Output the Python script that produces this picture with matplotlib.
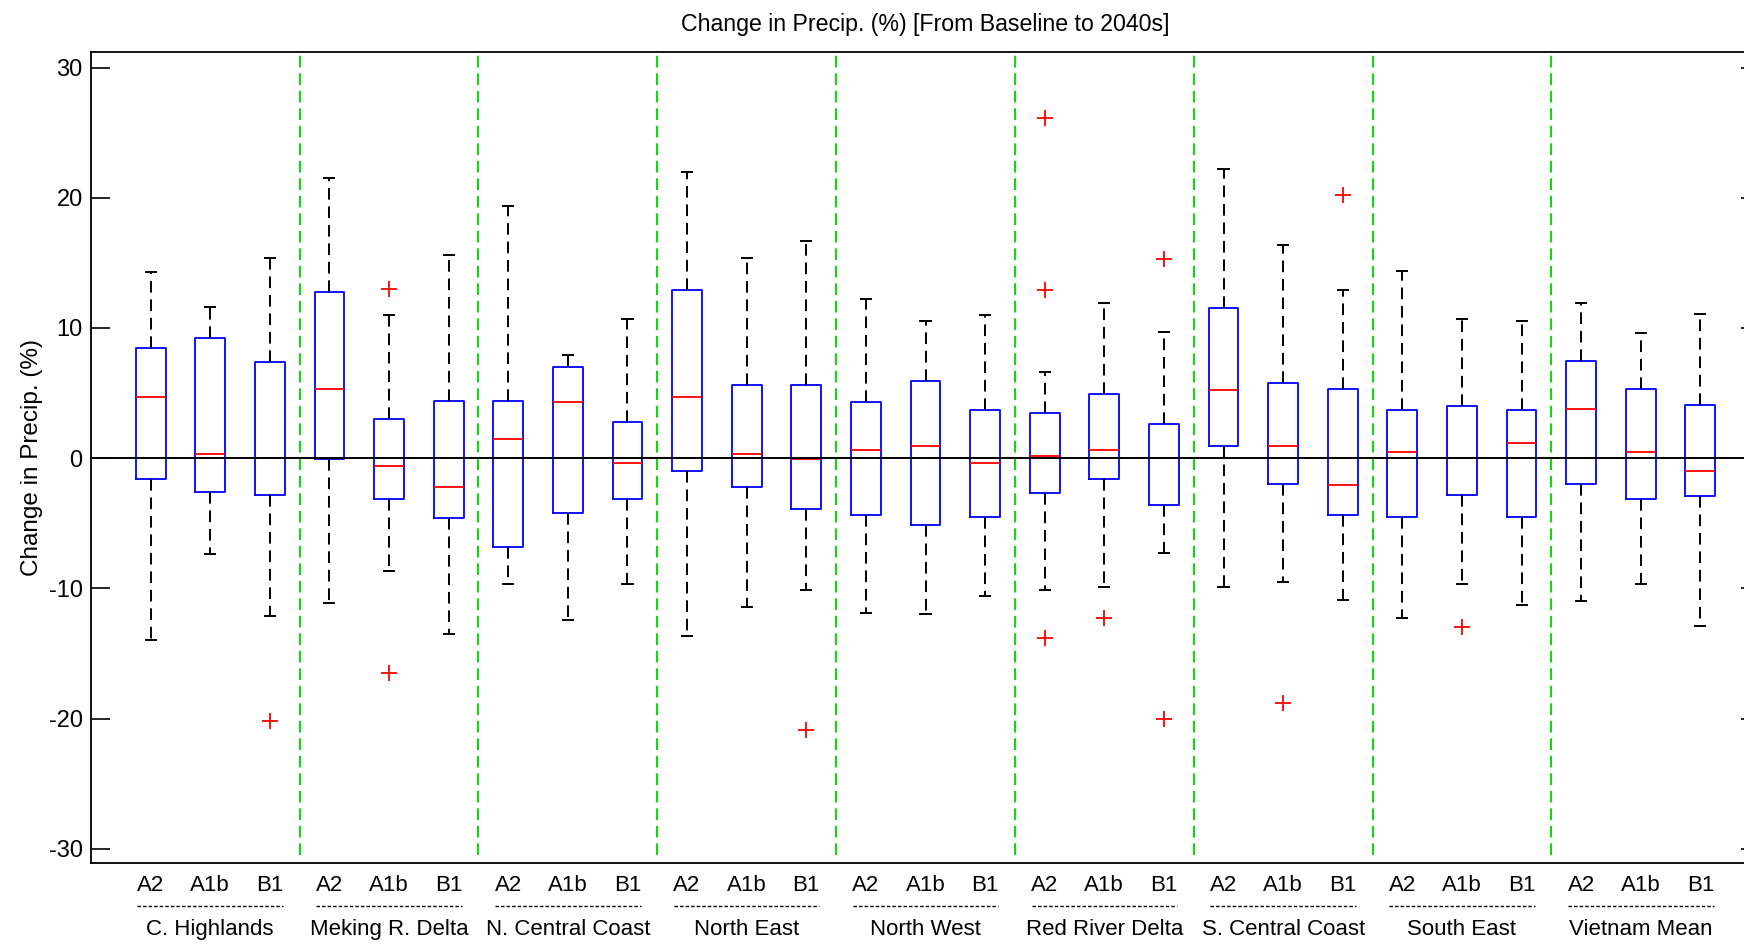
import numpy as np
import matplotlib
matplotlib.use('Agg')
import matplotlib.pyplot as plt

plt.rcParams['font.family'] = ['Liberation Sans', 'DejaVu Sans']

regions = ['C. Highlands', 'Meking R. Delta', 'N. Central Coast', 'North East',
           'North West', 'Red River Delta', 'S. Central Coast', 'South East',
           'Vietnam Mean']
scenarios = ['A2', 'A1b', 'B1']

# box stats, 3 scenarios per region
whisker_hi = [14.3, 11.6, 15.4, 21.5, 11.0, 15.6, 19.4, 7.9, 10.7,
              22.0, 15.4, 16.7, 12.2, 10.5, 11.0, 6.6, 11.9, 9.7,
              22.2, 16.4, 12.9, 14.4, 10.7, 10.5, 11.9, 9.6, 11.1]
q3 = [8.5, 9.2, 7.4, 12.8, 3.0, 4.4, 4.4, 7.0, 2.8,
      12.9, 5.6, 5.6, 4.3, 5.9, 3.7, 3.5, 4.9, 2.6,
      11.5, 5.8, 5.3, 3.7, 4.0, 3.7, 7.5, 5.3, 4.1]
median = [4.7, 0.3, 0.0, 5.3, -0.6, -2.2, 1.5, 4.3, -0.4,
          4.7, 0.3, -0.05, 0.6, 0.9, -0.4, 0.15, 0.6, 0.0,
          5.2, 0.9, -2.1, 0.5, 0.0, 1.2, 3.8, 0.5, -1.0]
q1 = [-1.6, -2.6, -2.8, -0.1, -3.1, -4.6, -6.8, -4.2, -3.1,
      -1.0, -2.2, -3.9, -4.4, -5.1, -4.5, -2.7, -1.6, -3.6,
      0.9, -2.0, -4.4, -4.5, -2.8, -4.5, -2.0, -3.1, -2.9]
whisker_lo = [-14.0, -7.4, -12.1, -11.1, -8.7, -13.5, -9.7, -12.4, -9.7,
              -13.7, -11.4, -10.1, -11.9, -12.0, -10.6, -10.1, -9.9, -7.3,
              -9.9, -9.5, -10.9, -12.3, -9.7, -11.3, -11.0, -9.7, -12.9]
outliers = [[], [], [-20.2],
            [], [13.0, -16.5], [],
            [], [], [],
            [], [], [-20.9],
            [], [], [],
            [26.1, 12.9, -13.8], [-12.3], [15.3, -20.0],
            [], [-18.8], [20.2],
            [], [-13.0], [],
            [], [], []]

stats = []
for i in range(len(q1)):
    stats.append({'whislo': whisker_lo[i], 'q1': q1[i], 'med': median[i],
                  'q3': q3[i], 'whishi': whisker_hi[i], 'fliers': outliers[i]})

fig = plt.figure(figsize=(17.44, 9.44), dpi=100)
ax = fig.add_axes([91 / 1744, 81 / 944, 1669 / 1744, 811 / 944])

positions = np.arange(1, len(stats) + 1)
ax.bxp(stats, positions=positions, widths=0.5, capwidths=0.17,
       boxprops=dict(color='#0000ff', linewidth=1.3),
       medianprops=dict(color='#ff0000', linewidth=1.3),
       whiskerprops=dict(color='black', linewidth=1.4, linestyle=(0, (6, 3.5))),
       capprops=dict(color='black', linewidth=1.4),
       flierprops=dict(marker='+', markeredgecolor='#ff0000', markersize=11,
                       markeredgewidth=1.3, linestyle='none'))

ax.set_xlim(0, 28)
ax.set_ylim(-31.1, 31.2)

# zero line drawn over the boxes, group separators behind
ax.axhline(0, color='black', linewidth=1.4, zorder=5)
for k in range(1, len(regions)):
    ax.plot([3 * k + 0.5] * 2, [-30.5, 31.2], color='#00e000', linewidth=1.4,
            linestyle=(0, (6, 3)), zorder=0)

ax.set_yticks([-30, -20, -10, 0, 10, 20, 30])
ax.set_yticklabels(['-30', '-20', '-10', '0', '10', '20', '30'],
                   family=['Liberation Sans Narrow', 'Liberation Sans'], fontsize=17)
ax.tick_params(axis='y', direction='in', length=14, width=1.2, right=True, pad=6)
ax.tick_params(axis='x', bottom=False, labelbottom=False)
for sp in ax.spines.values():
    sp.set_linewidth(1.3)

# scenario and region labels under the axis
trans = ax.get_xaxis_transform()
for g, name in enumerate(regions):
    centre = 3 * g + 2
    for s, scen in enumerate(scenarios):
        ax.text(centre - 1 + s, -0.028, scen, transform=trans, ha='center',
                va='center', fontsize=16, clip_on=False)
    ax.plot([centre - 1.22, centre + 1.22], [-0.053, -0.053], transform=trans,
            color='black', linewidth=1.0, linestyle=(0, (2.5, 1.5)), clip_on=False)
    ax.text(centre, -0.082, name, transform=trans, ha='center', va='center',
            fontsize=16, clip_on=False)

ax.set_title('Change in Precip. (%) [From Baseline to 2040s]', fontsize=16.7, pad=15)
ax.set_ylabel('Change in Precip. (%)', fontsize=17.5, labelpad=4)

fig.savefig('out.png', dpi=100)
